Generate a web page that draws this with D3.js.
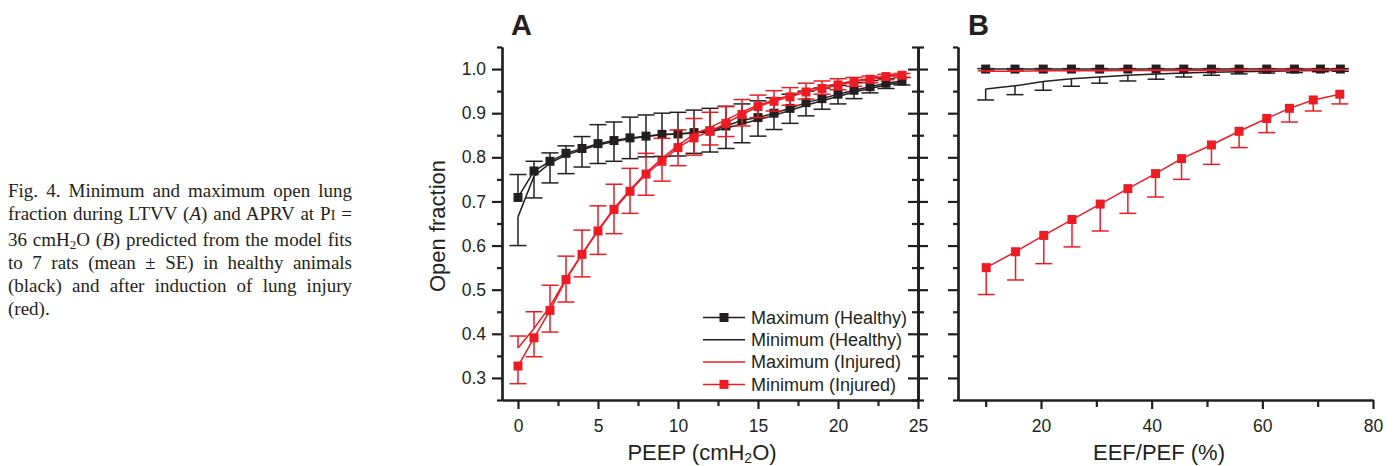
<!DOCTYPE html>
<html>
<head>
<meta charset="utf-8">
<script src="https://cdnjs.cloudflare.com/ajax/libs/d3/7.8.5/d3.min.js"></script>
<style>
body { margin: 0; background: #fff; }
#fig { position: relative; width: 1394px; height: 466px; overflow: hidden; }
#fig svg { position: absolute; left: 0; top: 0; }
.caption { position: absolute; left: 8px; top: 179px; width: 344px;
  font-family: "Liberation Serif", "Times New Roman", serif; font-size: 19px;
  line-height: 23.3px; color: #231f20; }
.caption div { text-align: justify; text-align-last: justify; }
.caption div.last { text-align-last: left; }
.caption sub { font-size: 13px; line-height: 0; vertical-align: -3px; }
.caption .sc { font-size: 14px; }
.axis path, .axis line { stroke: #231f20; stroke-width: 2.2; }
.axis text { font-family: "Liberation Sans", Arial, sans-serif; font-size: 17.5px; fill: #231f20; }
.label { font-family: "Liberation Sans", Arial, sans-serif; font-size: 22px; fill: #231f20; }
.legend text { font-family: "Liberation Sans", Arial, sans-serif; font-size: 18px; fill: #231f20; }
</style>
</head>
<body>
<div id="fig">
  <div class="caption">
    <div>Fig. 4. Minimum and maximum open lung</div>
    <div>fraction during LTVV (<i>A</i>) and APRV at P<span class="sc">I</span> =</div>
    <div>36 cmH<sub>2</sub>O (<i>B</i>) predicted from the model fits</div>
    <div>to 7 rats (mean ± SE) in healthy animals</div>
    <div>(black) and after induction of lung injury</div>
    <div class="last">(red).</div>
  </div>
</div>
<script>
// ---- panel A: LTVV, open fraction vs PEEP ----
var peep = [0, 1, 2, 3, 4, 5, 6, 7, 8, 9, 10, 11, 12, 13, 14, 15, 16, 17, 18, 19, 20, 21, 22, 23, 24];

var maxHealthyA   = [0.709, 0.769, 0.791, 0.809, 0.820, 0.831, 0.838, 0.844, 0.848, 0.852, 0.853, 0.856, 0.860, 0.871, 0.884, 0.890, 0.900, 0.911, 0.924, 0.933, 0.943, 0.952, 0.960, 0.968, 0.973];
var maxHealthyAUp = [0.761, 0.791, 0.810, 0.826, 0.847, 0.874, 0.880, 0.891, 0.896, 0.900, 0.902, 0.907, 0.911, 0.915, 0.921, 0.928, 0.935, 0.943, 0.950, 0.957, 0.963, 0.969, 0.974, 0.978, 0.981];
var minHealthyA   = [0.665, 0.757, 0.787, 0.805, 0.817, 0.828, 0.836, 0.842, 0.847, 0.851, 0.853, 0.855, 0.858, 0.866, 0.876, 0.885, 0.895, 0.906, 0.918, 0.928, 0.938, 0.948, 0.956, 0.964, 0.970];
var minHealthyALow= [0.600, 0.708, 0.742, 0.763, 0.778, 0.786, 0.791, 0.797, 0.801, 0.802, 0.803, 0.809, 0.812, 0.820, 0.833, 0.848, 0.863, 0.877, 0.894, 0.909, 0.921, 0.933, 0.946, 0.956, 0.964];
var maxInjuredA   = [0.368, 0.412, 0.462, 0.525, 0.581, 0.635, 0.684, 0.726, 0.765, 0.797, 0.827, 0.852, 0.868, 0.885, 0.903, 0.918, 0.930, 0.941, 0.952, 0.960, 0.967, 0.973, 0.979, 0.984, 0.988];
var maxInjuredAUp = [0.395, 0.450, 0.510, 0.576, 0.635, 0.690, 0.739, 0.775, 0.809, 0.843, 0.862, 0.888, 0.902, 0.916, 0.931, 0.941, 0.951, 0.958, 0.968, 0.973, 0.978, 0.981, 0.984, 0.988, 0.990];
var minInjuredA   = [0.327, 0.391, 0.453, 0.523, 0.580, 0.633, 0.682, 0.723, 0.762, 0.791, 0.822, 0.844, 0.859, 0.877, 0.897, 0.915, 0.927, 0.937, 0.948, 0.956, 0.964, 0.971, 0.977, 0.983, 0.986];
var minInjuredALow= [0.287, 0.348, 0.404, 0.472, 0.529, 0.580, 0.627, 0.673, 0.714, 0.746, 0.781, 0.805, 0.828, 0.847, 0.871, 0.890, 0.905, 0.918, 0.932, 0.943, 0.953, 0.961, 0.969, 0.976, 0.981];

// ---- panel B: APRV, open fraction vs EEF/PEF ----
var eefHealthy = [10.0, 15.3, 20.4, 25.5, 30.6, 35.7, 40.8, 45.8, 50.8, 55.8, 60.8, 65.8, 70.5, 74.1];
var eefInjured = [10.1, 15.4, 20.5, 25.6, 30.7, 35.7, 40.7, 45.4, 50.8, 55.8, 60.8, 64.9, 69.2, 74.0];

var maxHealthyB   = [1.000, 1.000, 1.000, 1.000, 1.000, 1.000, 1.000, 1.000, 1.000, 1.000, 1.000, 1.000, 1.000, 1.000];
var maxHealthyBUp = [1.001, 1.001, 1.001, 1.001, 1.001, 1.001, 1.001, 1.001, 1.001, 1.001, 1.001, 1.001, 1.001, 1.001];
var minHealthyB   = [0.955, 0.962, 0.972, 0.978, 0.982, 0.986, 0.989, 0.991, 0.993, 0.994, 0.995, 0.996, 0.997, 0.997];
var minHealthyBLow= [0.930, 0.942, 0.952, 0.961, 0.968, 0.973, 0.977, 0.982, 0.986, 0.989, 0.991, 0.992, 0.994, 0.995];
var maxInjuredB   = [0.995, 0.995, 0.996, 0.996, 0.996, 0.997, 0.997, 0.997, 0.997, 0.998, 0.998, 0.998, 0.998, 0.998];
var maxInjuredBUp = [0.996, 0.996, 0.997, 0.997, 0.997, 0.998, 0.998, 0.998, 0.998, 0.999, 0.999, 0.999, 0.999, 0.999];
var minInjuredB   = [0.550, 0.586, 0.623, 0.659, 0.694, 0.729, 0.763, 0.797, 0.828, 0.859, 0.888, 0.911, 0.930, 0.943];
var minInjuredBLow= [0.489, 0.522, 0.559, 0.597, 0.633, 0.673, 0.710, 0.750, 0.784, 0.822, 0.856, 0.880, 0.905, 0.921];

// ---- ticks and labels ----
var yTicks  = [0.3, 0.4, 0.5, 0.6, 0.7, 0.8, 0.9, 1.0];
var yMinor  = [0.25, 0.35, 0.45, 0.55, 0.65, 0.75, 0.85, 0.95, 1.05];
var xTicksA = [0, 5, 10, 15, 20, 25];
var xMinorA = [2.5, 7.5, 12.5, 17.5, 22.5];
var xTicksB = [20, 40, 60, 80];
var xMinorB = [10, 30, 50, 70];
var legendLabels = ["Maximum (Healthy)", "Minimum (Healthy)", "Maximum (Injured)", "Minimum (Injured)"];

var black = "#231f20", red = "#ed1c24";
var plotTop = 47, plotBottom = 400,
    aLeft = 502, aRight = 918,
    bLeft = 958, bRight = 1373;

var svg = d3.select("#fig").append("svg")
    .attr("width", 1394)
    .attr("height", 466);

var yScale = d3.scaleLinear().domain([0.25, 1.05]).range([plotBottom, plotTop]);
var xA = d3.scaleLinear().domain([-1, 25]).range([aLeft, aRight]);
var xB = d3.scaleLinear().domain([5, 80]).range([bLeft, bRight]);

// axes
function addAxis(axis, tx, ty) {
    return svg.append("g")
        .attr("class", "axis")
        .attr("transform", "translate(" + tx + "," + ty + ")")
        .call(axis.tickSizeOuter(0));
}
addAxis(d3.axisLeft(yScale).tickValues(yTicks).tickSize(10).tickPadding(6).tickFormat(d3.format(".1f")), aLeft, 0);
addAxis(d3.axisLeft(yScale).tickValues(yMinor).tickSize(5).tickFormat(""), aLeft, 0);
addAxis(d3.axisRight(yScale).tickValues(yTicks).tickSize(10).tickFormat(""), aRight, 0);
addAxis(d3.axisLeft(yScale).tickValues(yTicks).tickSize(10).tickFormat(""), aRight, 0);
addAxis(d3.axisRight(yScale).tickValues(yMinor).tickSize(6).tickFormat(""), aRight, 0);
addAxis(d3.axisLeft(yScale).tickValues(yMinor).tickSize(6).tickFormat(""), aRight, 0);
addAxis(d3.axisBottom(xA).tickValues(xTicksA).tickSize(9).tickPadding(11), 0, plotBottom);
addAxis(d3.axisBottom(xA).tickValues(xMinorA).tickSize(6).tickFormat(""), 0, plotBottom);

addAxis(d3.axisLeft(yScale).tickValues(yTicks).tickSize(10).tickFormat(""), bLeft, 0);
addAxis(d3.axisLeft(yScale).tickValues(yMinor).tickSize(5).tickFormat(""), bLeft, 0);
addAxis(d3.axisBottom(xB).tickValues(xTicksB).tickSize(9).tickPadding(11), 0, plotBottom);
addAxis(d3.axisBottom(xB).tickValues(xMinorB).tickSize(7).tickFormat(""), 0, plotBottom);

// series: line, error bars towards caps, optional squares
function drawSeries(xs, ys, caps, xScale, color, squares) {
    var pts = xs.map(function(x, i) { return {x: x, y: ys[i], cap: caps ? caps[i] : null}; });
    var g = svg.append("g");
    g.append("path")
        .datum(pts)
        .attr("fill", "none")
        .attr("stroke", color)
        .attr("stroke-width", 1.5)
        .attr("d", d3.line().x(function(d) { return xScale(d.x); }).y(function(d) { return yScale(d.y); }));
    if (caps) {
        g.selectAll(".bar").data(pts).enter().append("line")
            .attr("stroke", color).attr("stroke-width", 1.5)
            .attr("x1", function(d) { return xScale(d.x); })
            .attr("x2", function(d) { return xScale(d.x); })
            .attr("y1", function(d) { return yScale(d.y); })
            .attr("y2", function(d) { return yScale(d.cap); });
        g.selectAll(".cap").data(pts).enter().append("line")
            .attr("stroke", color).attr("stroke-width", 1.5)
            .attr("x1", function(d) { return xScale(d.x) - 8.5; })
            .attr("x2", function(d) { return xScale(d.x) + 8.5; })
            .attr("y1", function(d) { return yScale(d.cap); })
            .attr("y2", function(d) { return yScale(d.cap); });
    }
    if (squares) {
        g.selectAll(".dot").data(pts).enter().append("rect")
            .attr("x", function(d) { return xScale(d.x) - 4.5; })
            .attr("y", function(d) { return yScale(d.y) - 4.5; })
            .attr("width", 9).attr("height", 9)
            .attr("fill", color);
    }
}

drawSeries(peep, minHealthyA, minHealthyALow, xA, black, false);
drawSeries(peep, maxHealthyA, maxHealthyAUp, xA, black, true);
drawSeries(peep, maxInjuredA, maxInjuredAUp, xA, red, false);
drawSeries(peep, minInjuredA, minInjuredALow, xA, red, true);

drawSeries(eefHealthy, minHealthyB, minHealthyBLow, xB, black, false);
drawSeries(eefHealthy, maxHealthyB, maxHealthyBUp, xB, black, true);
drawSeries(eefInjured, maxInjuredB, maxInjuredBUp, xB, red, false);
drawSeries(eefInjured, minInjuredB, minInjuredBLow, xB, red, true);

// legend
var legendColor = [black, black, red, red], legendSquare = [true, false, false, true];
var legend = svg.selectAll(".legend")
    .data(legendLabels)
  .enter().append("g")
    .attr("class", "legend")
    .attr("transform", function(d, i) { return "translate(703," + (317.5 + i * 22.3) + ")"; });
legend.append("line")
    .attr("x1", 0).attr("x2", 42)
    .attr("stroke", function(d, i) { return legendColor[i]; })
    .attr("stroke-width", 1.5);
legend.filter(function(d, i) { return legendSquare[i]; }).append("rect")
    .attr("x", 16.5).attr("y", -4.5).attr("width", 9).attr("height", 9)
    .attr("fill", function(d) { return legendColor[legendLabels.indexOf(d)]; });
legend.append("text")
    .attr("x", 48)
    .attr("dy", ".35em")
    .text(function(d) { return d; });

// axis titles
svg.append("text")
    .attr("class", "label")
    .attr("transform", "translate(445,226) rotate(-90)")
    .attr("text-anchor", "middle")
    .text("Open fraction");
var peepLabel = svg.append("text")
    .attr("class", "label")
    .attr("x", 702).attr("y", 459.5)
    .attr("text-anchor", "middle");
peepLabel.append("tspan").text("PEEP (cmH");
peepLabel.append("tspan").attr("font-size", "14px").attr("dy", 3.5).text("2");
peepLabel.append("tspan").attr("dy", -3.5).text("O)");
svg.append("text")
    .attr("class", "label")
    .attr("x", 1159).attr("y", 459.5)
    .attr("text-anchor", "middle")
    .text("EEF/PEF (%)");

// panel letters
svg.selectAll(".panel")
    .data(["A", "B"])
  .enter().append("text")
    .attr("x", function(d, i) { return i ? 968 : 511; })
    .attr("y", 34.5)
    .attr("font-family", "Liberation Sans, Arial, sans-serif")
    .attr("font-weight", "bold")
    .attr("font-size", "29px")
    .attr("fill", black)
    .text(function(d) { return d; });
</script>
</body>
</html>
